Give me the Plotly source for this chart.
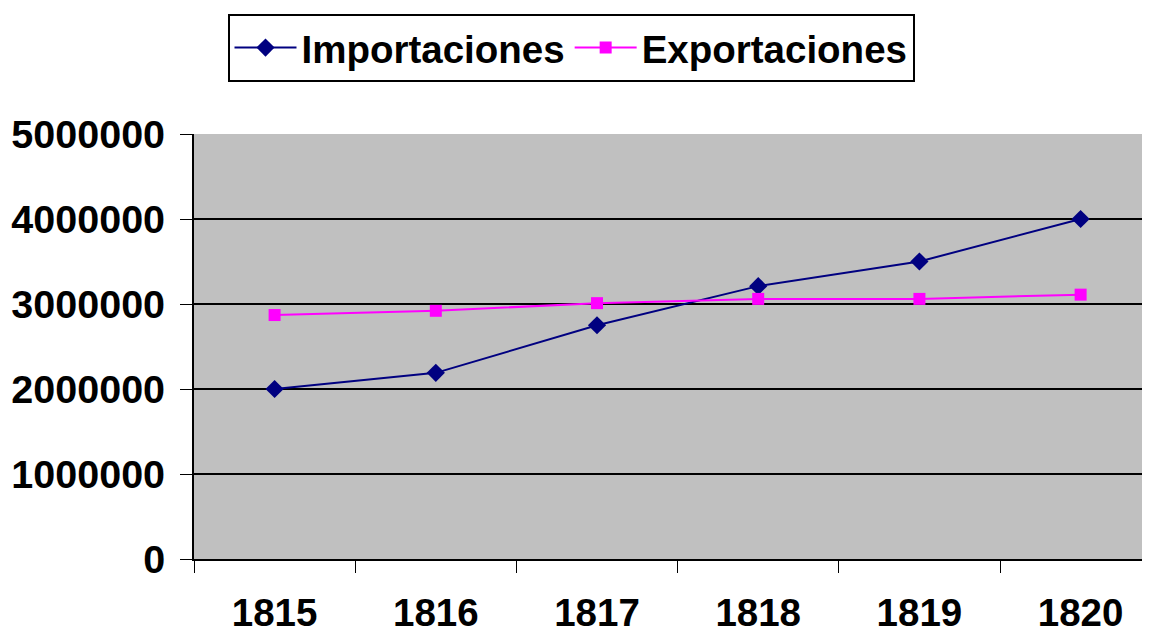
import plotly.graph_objects as go

years = ["1815", "1816", "1817", "1818", "1819", "1820"]
importaciones = [2000000, 2190000, 2750000, 3210000, 3500000, 4000000]
exportaciones = [2870000, 2920000, 3010000, 3060000, 3060000, 3110000]

FONT = "Arial, 'Liberation Sans', sans-serif"

fig = go.Figure()
fig.add_trace(go.Scatter(
    x=years, y=importaciones, name="Importaciones", mode="lines+markers",
    line=dict(color="#000080", width=2),
    marker=dict(symbol="diamond", size=14, color="#000080"),
))
fig.add_trace(go.Scatter(
    x=years, y=exportaciones, name="Exportaciones", mode="lines+markers",
    line=dict(color="#FF00FF", width=2),
    marker=dict(symbol="square", size=12, color="#FF00FF"),
))

fig.update_layout(
    width=1150, height=634,
    margin=dict(l=186, r=0, t=126, b=83, autoexpand=False),
    paper_bgcolor="white",
    plot_bgcolor="#C0C0C0",
    font=dict(family=FONT, size=38, color="black"),
    showlegend=True,
    legend=dict(
        orientation="h",
        xref="container", yref="container",
        x=563 / 1150, xanchor="center",
        y=1 - 6 / 634, yanchor="top",
        bgcolor="white", bordercolor="black", borderwidth=2,
        font=dict(family=FONT, size=38.5, color="black", weight="bold"),
        itemwidth=62,
    ),
    xaxis=dict(
        type="category",
        range=[-0.5, 5.48],
        automargin=False,
        tickson="boundaries",
        ticks="outside", ticklen=12, tickwidth=1, tickcolor="black",
        showline=True, linecolor="black", linewidth=2,
        showgrid=False,
        tickfont=dict(family=FONT, size=38.5, color="black", weight="bold"),
        ticklabelstandoff=19,
    ),
    yaxis=dict(
        range=[0, 5000000],
        automargin=False,
        tickmode="linear", tick0=0, dtick=1000000,
        tickformat="d",
        ticks="outside", ticklen=12, tickwidth=1, tickcolor="black",
        showline=True, linecolor="black", linewidth=2,
        showgrid=True, gridcolor="black", gridwidth=2,
        zeroline=False,
        tickfont=dict(family=FONT, size=39.5, color="black", weight="bold"),
        ticklabelstandoff=7,
    ),
)

fig.write_html("out.html")
